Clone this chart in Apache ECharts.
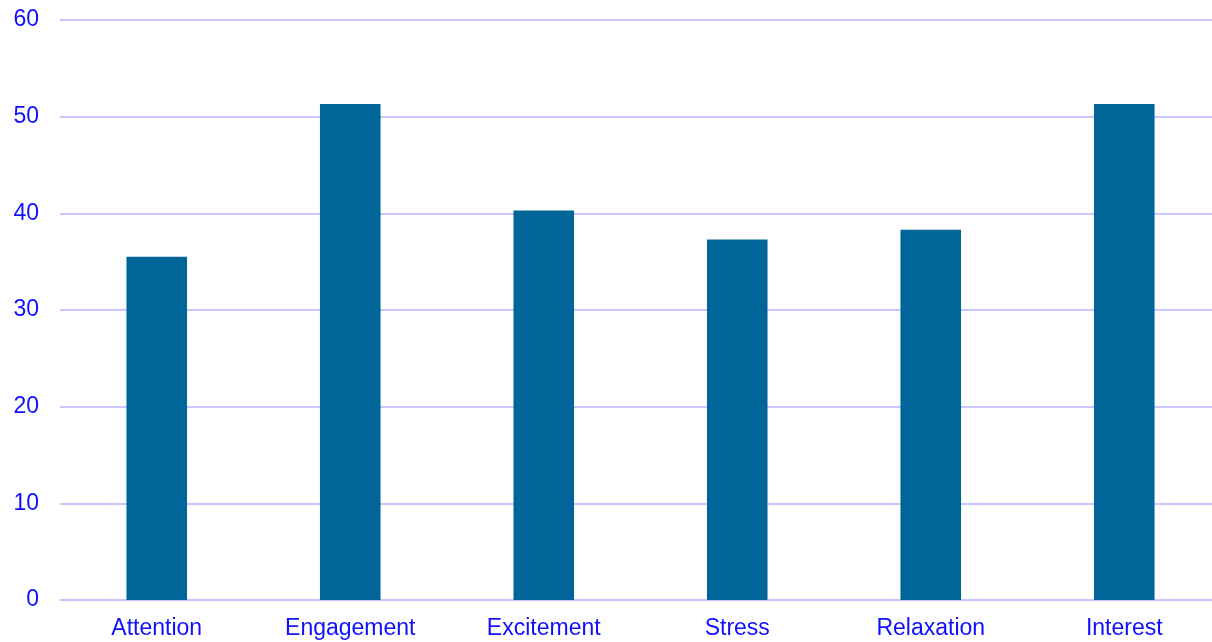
<!DOCTYPE html>
<html>
<head>
<meta charset="utf-8">
<script src="https://cdn.jsdelivr.net/npm/echarts@6/dist/echarts.min.js"></script>
<style>html,body{margin:0;padding:0;background:#fff;}#c{width:1212px;height:642px;}</style>
</head>
<body>
<div id="c"></div>
<script>
const categories = ['Attention', 'Engagement', 'Excitement', 'Stress', 'Relaxation', 'Interest'];
const values = [35.5, 51.3, 40.3, 37.3, 38.3, 51.3];
const yTicks = [0, 10, 20, 30, 40, 50, 60];

const chart = echarts.init(document.getElementById('c'), null, {renderer: 'canvas'});
chart.setOption({
  animation: false,
  backgroundColor: '#ffffff',
  grid: {left: 60, width: 1161, top: 20, height: 580, containLabel: false, outerBoundsMode: 'none'},
  xAxis: {
    type: 'category',
    data: categories,
    axisLine: {show: true, lineStyle: {color: '#c8c8ff', width: 2}},
    axisTick: {show: false},
    axisLabel: {color: '#1010ff', fontSize: 23, fontFamily: 'Liberation Sans, Arial, sans-serif', margin: 17, interval: 0}
  },
  yAxis: {
    type: 'value',
    min: yTicks[0],
    max: yTicks[yTicks.length - 1],
    interval: 10,
    axisLine: {show: false},
    axisTick: {show: false},
    splitLine: {lineStyle: {color: '#c8c8ff', width: 2}},
    axisLabel: {color: '#1010ff', fontSize: 23, fontFamily: 'Liberation Sans, Arial, sans-serif', margin: 21}
  },
  series: [{
    type: 'bar',
    data: values,
    barWidth: '31.3%',
    itemStyle: {color: '#006699'}
  }]
});
</script>
</body>
</html>
